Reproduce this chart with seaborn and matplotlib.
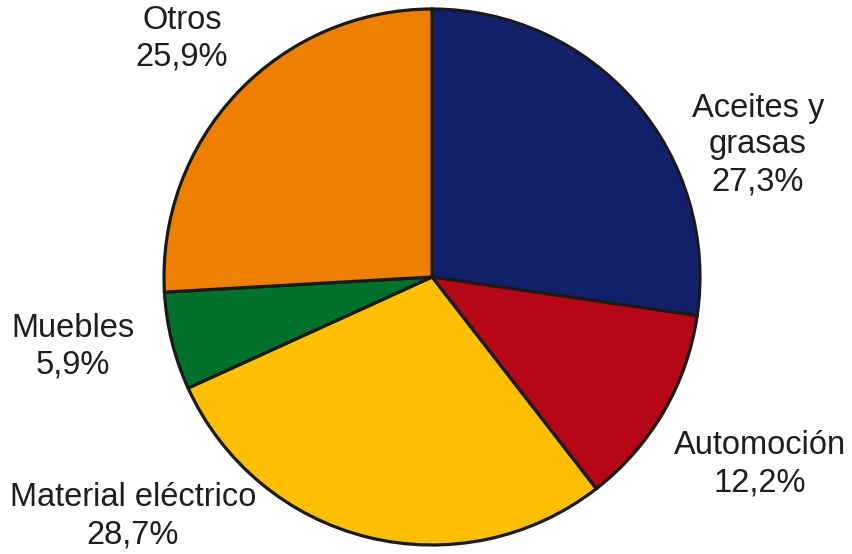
import matplotlib
matplotlib.use("Agg")
import matplotlib.pyplot as plt
import seaborn as sns

sns.set_style("white")
plt.rcParams["font.family"] = ["Liberation Sans", "DejaVu Sans"]

categories = ["Aceites y\ngrasas", "Automoción", "Material eléctrico", "Muebles", "Otros"]
shares = [27.3, 12.2, 28.7, 5.9, 25.9]
colors = ["#13206b", "#b50716", "#fdc000", "#00722d", "#ee7f00"]
# label anchors in pixel coords (x, y from top)
label_pos = [(758, 145), (760, 464), (133, 516), (73, 347), (182, 39)]

W, H = 853, 554
fig = plt.figure(figsize=(W / 100, H / 100), dpi=100)
ax = fig.add_axes([0, 0, 1, 1])

ax.pie(shares, colors=colors, startangle=90, counterclock=False,
       center=(432, H - 277), radius=268, frame=True,
       wedgeprops=dict(edgecolor="#1a1a1a", linewidth=2.3))

for cat, val, (x, y) in zip(categories, shares, label_pos):
    txt = f"{cat}\n{val:.1f}%".replace(".", ",")
    ax.text(x, H - y, txt, ha="center", va="center", fontsize=23.5,
            color="#1e1e1e", linespacing=1.25)

ax.set_xlim(0, W)
ax.set_ylim(0, H)
ax.set_aspect("equal")
ax.axis("off")

fig.savefig("out.png", dpi=100)
